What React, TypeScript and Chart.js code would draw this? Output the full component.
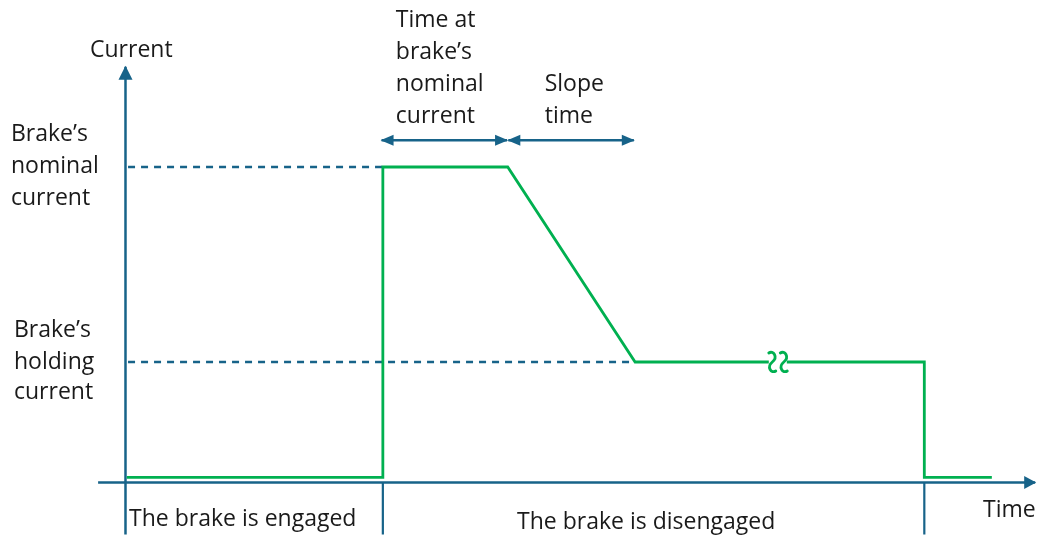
import { useEffect, useRef } from 'react';
import { Chart, registerables } from 'chart.js';

Chart.register(...registerables);

// ---- data (time in arbitrary units, current normalised to the nominal current) ----
const currentTimes = [0.01, 2.02, 2.02, 3.0, 4.0, 6.27, 6.27, 6.8];
const currentValues = [0.016, 0.016, 1.0, 1.0, 0.382, 0.382, 0.016, 0.016];
const nominalCurrent = 1.0;
const holdingCurrent = 0.382;
const energizeTime = 2.02;
const slopeStartTime = 3.0;
const slopeEndTime = 4.0;
const switchOffTime = 6.27;
const breakTime = 5.12;
const intervalArrowLevel = 1.085;
const xAxisExtent = [-0.215, 7.14];
const yAxisExtent = [-0.165, 1.318];
const viewX = [-0.985, 7.178];
const viewY = [-0.1664, 1.5293];

const axisTitles = ['Current', 'Time'];
const levelLabels = [
  ['Brake\u2019s', 'nominal', 'current'],
  ['Brake\u2019s', 'holding', 'current'],
];
const intervalLabels = [
  ['Time at', 'brake\u2019s', 'nominal', 'current'],
  ['Slope', 'time'],
];
const phaseLabels = ['The brake is engaged', 'The brake is disengaged'];

const GREEN = '#00B050';
const BLUE = '#176389';
const TEXT = '#1a1a1a';
const FONT = "23px 'Open Sans', sans-serif";

const pts = (xs: number[], ys: number[]) => xs.map((x, i) => ({ x, y: ys[i] }));

const arrowPlugin = {
  id: 'arrows',
  afterDatasetsDraw(chart: any) {
    const ctx = chart.ctx;
    chart.data.datasets.forEach((ds: any, i: number) => {
      if (!ds.arrowHeads) return;
      const meta = chart.getDatasetMeta(i);
      const d = meta.data;
      if (d.length < 2) return;
      const head = (tip: any, from: any) => {
        const ang = Math.atan2(tip.y - from.y, tip.x - from.x);
        const L = ds.arrowLen || 12;
        const W = ds.arrowHalf || 6;
        ctx.save();
        ctx.translate(tip.x, tip.y);
        ctx.rotate(ang);
        ctx.beginPath();
        ctx.moveTo(1, 0);
        ctx.lineTo(-L, -W);
        ctx.lineTo(-L, W);
        ctx.closePath();
        ctx.fillStyle = ds.borderColor;
        ctx.fill();
        ctx.restore();
      };
      head(d[d.length - 1], d[0]);
      if (ds.arrowHeads === 'both') head(d[0], d[d.length - 1]);
    });
  },
};

const breakPlugin = {
  id: 'breakMark',
  afterDatasetsDraw(chart: any) {
    const { ctx, scales } = chart;
    const cx = scales.x.getPixelForValue(breakTime);
    const cy = scales.y.getPixelForValue(holdingCurrent);
    ctx.save();
    ctx.fillStyle = '#ffffff';
    ctx.fillRect(cx - 9, cy - 3, 18, 6);
    ctx.strokeStyle = GREEN;
    ctx.lineWidth = 2.8;
    ctx.lineCap = 'round';
    [-5.5, 6].forEach((off) => {
      const x0 = cx + off;
      ctx.beginPath();
      ctx.moveTo(x0 - 3.5, cy - 9);
      ctx.bezierCurveTo(x0 + 1, cy - 12, x0 + 6, cy - 5, x0, cy);
      ctx.bezierCurveTo(x0 - 6, cy + 5, x0 - 1, cy + 12, x0 + 3.5, cy + 9);
      ctx.stroke();
    });
    ctx.restore();
  },
};

const textPlugin = {
  id: 'texts',
  afterDraw(chart: any) {
    const { ctx, scales } = chart;
    ctx.save();
    ctx.font = FONT;
    ctx.fillStyle = TEXT;
    ctx.textBaseline = 'alphabetic';
    ctx.textAlign = 'left';
    const lh = 32;
    // axis titles
    ctx.fillText(axisTitles[0], 90, 57);
    ctx.fillText(axisTitles[1], 983, 517);
    // level labels on the left
    const yn = scales.y.getPixelForValue(nominalCurrent);
    const yh = scales.y.getPixelForValue(holdingCurrent);
    levelLabels[0].forEach((t, i) => ctx.fillText(t, 11, yn - 26 + i * lh));
    levelLabels[1].forEach((t, i) => ctx.fillText(t, 14, yh - 25 + i * lh - (i === 2 ? 2 : 0)));
    // interval labels above the arrows
    const ya = scales.y.getPixelForValue(intervalArrowLevel);
    const x1 = scales.x.getPixelForValue(energizeTime) + 13;
    const x2 = scales.x.getPixelForValue(slopeStartTime) + 37;
    intervalLabels[0].forEach((t, i) => ctx.fillText(t, x1, ya - 17 - (3 - i) * lh));
    intervalLabels[1].forEach((t, i) => ctx.fillText(t, x2, ya - 17 - (1 - i) * lh));
    // phase labels
    ctx.fillText(phaseLabels[0], 129, 526);
    ctx.fillText(phaseLabels[1], 517, 529);
    ctx.restore();
  },
};

export default function App() {
  const ref = useRef<HTMLCanvasElement>(null);
  useEffect(() => {
    if (!ref.current) return;
    const line = (data: any, color: string, width: number, extra: any = {}) => ({
      data,
      borderColor: color,
      backgroundColor: color,
      borderWidth: width,
      showLine: true,
      pointRadius: 0,
      pointHoverRadius: 0,
      fill: false,
      tension: 0,
      ...extra,
    });
    const chart = new Chart(ref.current, {
      type: 'scatter',
      data: {
        datasets: [
          line(pts(currentTimes, currentValues), GREEN, 2.8, { borderJoinStyle: 'miter' }),
          line(pts([0.02, energizeTime], [nominalCurrent, nominalCurrent]), BLUE, 2.4, { borderDash: [7, 6] }),
          line(pts([0.02, slopeEndTime], [holdingCurrent, holdingCurrent]), BLUE, 2.4, { borderDash: [7, 6] }),
          line(pts([xAxisExtent[0], xAxisExtent[1]], [0, 0]), BLUE, 2.5, { arrowHeads: 'end', arrowLen: 11, arrowHalf: 6.5 }),
          line(pts([0, 0], [yAxisExtent[0], yAxisExtent[1]]), BLUE, 2.5, { arrowHeads: 'end', arrowLen: 13, arrowHalf: 7 }),
          line(pts([energizeTime, energizeTime], [0, yAxisExtent[0]]), BLUE, 2.2),
          line(pts([switchOffTime, switchOffTime], [0, yAxisExtent[0]]), BLUE, 2.2),
          line(pts([energizeTime - 0.01, slopeStartTime - 0.005], [intervalArrowLevel, intervalArrowLevel]), BLUE, 2.5, { arrowHeads: 'both', arrowLen: 12, arrowHalf: 5.5 }),
          line(pts([slopeStartTime + 0.005, slopeEndTime - 0.01], [intervalArrowLevel, intervalArrowLevel]), BLUE, 2.5, { arrowHeads: 'both', arrowLen: 12, arrowHalf: 5.5 }),
        ],
      },
      options: {
        animation: false,
        responsive: false,
        maintainAspectRatio: false,
        layout: { padding: 0 },
        events: [],
        plugins: { legend: { display: false }, tooltip: { enabled: false } },
        scales: {
          x: { type: 'linear', display: false, min: viewX[0], max: viewX[1] },
          y: { type: 'linear', display: false, min: viewY[0], max: viewY[1] },
        },
      },
      plugins: [arrowPlugin, breakPlugin, textPlugin],
    });
    return () => chart.destroy();
  }, []);
  return (
    <div style={{ position: 'fixed', left: 0, top: 0, width: 1040, height: 535, background: '#fff' }}>
      <canvas ref={ref} width={1040} height={535} style={{ display: 'block', width: 1040, height: 535 }} />
    </div>
  );
}
